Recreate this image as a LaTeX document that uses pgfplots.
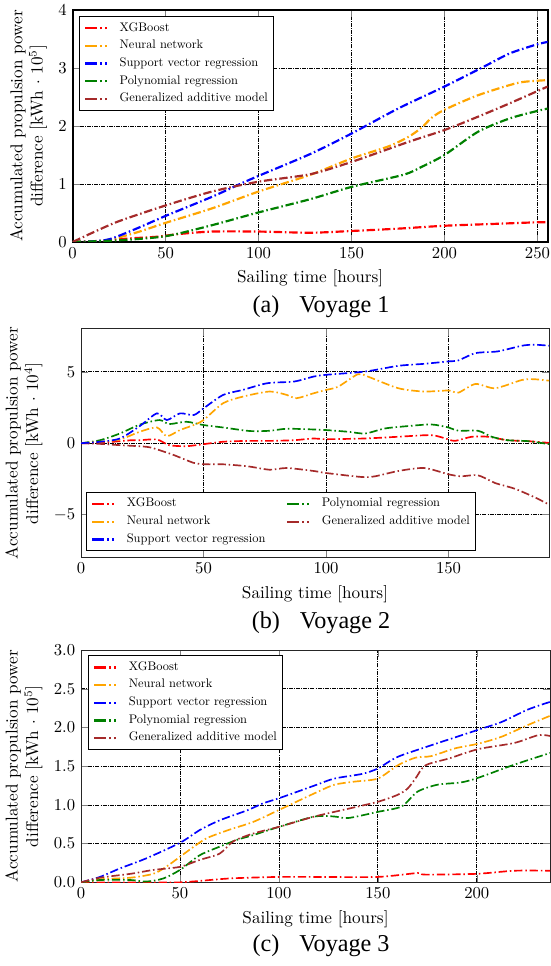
\documentclass[border=0pt]{standalone}
\usepackage{pgfplots}
\pgfplotsset{compat=1.18}
\usepackage{fontspec}
\newfontfamily\capfont{Liberation Serif}
\definecolor{cRed}{RGB}{255,0,0}
\definecolor{cOrange}{RGB}{255,165,0}
\definecolor{cBlue}{RGB}{0,0,255}
\definecolor{cGreen}{RGB}{0,128,0}
\definecolor{cBrown}{RGB}{165,42,42}
\newcommand\legtxt[1]{\scalebox{0.745}{\fontsize{10}{12}\selectfont #1}}
\newcommand\legsample[1]{\textcolor{#1}{\rule[0.95pt]{7.2pt}{1.4pt}\hspace{1.5pt}\rule[0.95pt]{1.4pt}{1.4pt}\hspace{1.7pt}\rule[0.95pt]{1.4pt}{1.4pt}}\hspace{7.6pt}}
\newcommand\legent[2]{\legsample{#1}\legtxt{#2}}
\pgfplotsset{
  myax/.style={
    scale only axis, anchor=north west,
    grid=major,
    major grid style={black, line width=0.45pt, dash pattern=on 2.4pt off 0.7pt on 0.5pt off 0.7pt},
    xlabel={Sailing time [hours]},
    tick label style={font=\fontsize{9.6}{11}\selectfont},
    label style={font=\fontsize{10.3}{12.2}\selectfont},
    ylabel style={align=center},
    legend cell align=left,
    legend style={font=\fontsize{7}{8}\selectfont, inner xsep=1.5pt, inner ysep=1.6pt, row sep=0pt, nodes={inner ysep=1.95pt}},
    legend image code/.code={},
    xmin=0,
    xtick={0,50,100,150,200,250},
  },
  cv/.style={draw=#1, dash pattern=on 5pt off 1.7pt on 0.9pt off 1.7pt, smooth, tension=0.45, no markers},
}
\begin{document}
\begin{tikzpicture}[x=1pt,y=1pt]
\useasboundingbox (0,0) rectangle (330,-579.6);
% ---------------- (a) ----------------
\begin{axis}[myax, at={(43.6pt,-6pt)}, width=285pt, height=139.2pt,
  xmax=255.5, ymin=0, ymax=4, ytick={0,1,2,3,4},
  axis line style={line width=1.1pt},
  every axis plot/.append style={line width=1.3pt},
  ylabel={Accumulated propulsion power\\difference [kWh $\cdot$ 10$^5$]},
  legend style={at={(axis description cs:0.013,0.974)}, anchor=north west}]
\addplot[cv=cRed] coordinates {(0,0) (15,0.02) (30,0.06) (45,0.09) (58,0.14) (75,0.18) (100,0.18) (128,0.16) (150,0.19) (175,0.23) (200,0.28) (225,0.31) (250,0.34) (255.5,0.34)};
\addlegendentry{\legent{cRed}{XGBoost}}
\addplot[cv=cOrange] coordinates {(0,0) (10,0.01) (20,0.04) (35,0.17) (50,0.33) (75,0.58) (100,0.87) (128,1.16) (150,1.44) (170,1.65) (181,1.82) (188,1.98) (193,2.14) (200,2.28) (218,2.53) (239,2.74) (250,2.78) (255.5,2.79)};
\addlegendentry{\legent{cOrange}{Neural network}}
\addplot[cv=cBlue] coordinates {(0,0) (10,0.01) (20,0.05) (35,0.24) (50,0.45) (75,0.78) (90,1.0) (100,1.14) (128,1.52) (150,1.87) (175,2.3) (200,2.68) (221,3.02) (235,3.25) (249,3.40) (255.5,3.45)};
\addlegendentry{\legent{cBlue}{Support vector regression}}
\addplot[cv=cGreen] coordinates {(0,0) (25,0.03) (50,0.10) (75,0.29) (100,0.51) (128,0.74) (150,0.95) (178,1.16) (188,1.30) (200,1.50) (218,1.90) (235,2.13) (250,2.26) (255.5,2.30)};
\addlegendentry{\legent{cGreen}{Polynomial regression}}
\addplot[cv=cBrown] coordinates {(0,0) (12,0.18) (25,0.36) (50,0.63) (75,0.87) (100,1.04) (128,1.17) (150,1.38) (181,1.73) (200,1.93) (218,2.16) (235,2.39) (255.5,2.68)};
\addlegendentry{\legent{cBrown}{Generalized additive model}}
\end{axis}
\node[font=\capfont\fontsize{14.5}{17}\selectfont] at (192.6,-184.2) {(a)\hspace{12pt}Voyage 1};
% ---------------- (b) ----------------
\begin{axis}[myax, at={(48.6pt,-197.4pt)}, width=280.8pt, height=137pt,
  xmax=191, ymin=-8, ymax=8, ytick={-5,0,5},
  axis line style={line width=0.6pt, black!85},
  every axis plot/.append style={line width=1pt},
  ylabel={Accumulated propulsion power\\difference [kWh $\cdot$ 10$^4$]},
  legend columns=2,
  legend style={at={(axis description cs:0.0107,0.0276)}, anchor=south west,
    /tikz/every even column/.append style={column sep=9pt}}]
\addplot[cv=cRed] coordinates {(0,0) (7.8,0.02) (20,0.2) (24,0.21) (31,0.26) (36,-0.14) (43,-0.21) (50,-0.07) (58,0.1) (68,0.16) (77,0.16) (87,0.21) (95,0.33) (100,0.28) (116,0.33) (129.5,0.45) (143,0.56) (150,0.26) (152.7,0.16) (159.5,0.45) (166,0.45) (174,0.21) (182.6,0.14) (191,0.02)};
\addlegendentry{\legent{cRed}{XGBoost}}
\addplot[cv=cGreen] coordinates {(0,0) (7.8,0.21) (15.9,0.68) (24,1.3) (32,1.62) (36,1.34) (43,1.5) (50,1.27) (58,1.1) (69,0.85) (77,0.87) (84,1.01) (95,0.96) (100,0.92) (109,0.8) (116,0.68) (124,1.03) (133.6,1.2) (143,1.31) (150,1.1) (154,0.87) (162,0.87) (167.6,0.45) (174,0.21) (182.6,0.14) (191,-0.07)};
\addlegendentry{\legent{cGreen}{Polynomial regression}}
\addplot[cv=cOrange] coordinates {(0,0) (7.8,0.1) (15.9,0.26) (24,0.8) (31,1.1) (35,0.49) (40.4,0.92) (46,1.27) (50,1.62) (58,2.8) (66,3.26) (77,3.62) (84,3.38) (88,3.15) (95,3.5) (100,3.73) (105,3.96) (113,4.83) (117,4.67) (129.5,3.85) (140,3.62) (150,3.69) (154,3.54) (161,4.15) (169,3.85) (180,4.43) (185,4.48) (191,4.38)};
\addlegendentry{\legent{cOrange}{Neural network}}
\addplot[cv=cBrown] coordinates {(0,0) (7.8,-0.05) (16,-0.14) (27,-0.26) (32,-0.49) (38,-0.84) (46,-1.38) (51,-1.48) (58,-1.48) (68,-1.62) (77,-1.86) (84,-1.74) (95,-1.95) (100,-2.09) (114.6,-2.37) (120,-2.32) (129.5,-1.95) (140,-1.74) (150,-2.18) (155,-2.32) (162,-2.25) (169,-2.79) (177,-3.19) (185,-3.78) (191,-4.3)};
\addlegendentry{\legent{cBrown}{Generalized additive model}}
\addplot[cv=cBlue] coordinates {(0,0) (7.8,0.1) (15.9,0.33) (24,1.2) (31,2.09) (35,1.62) (40.4,2.09) (46,1.97) (50,2.44) (58,3.38) (66,3.73) (76,4.2) (87,4.32) (95,4.67) (100,4.79) (116,5.02) (129.5,5.42) (140,5.56) (150,5.73) (154,5.8) (161,6.31) (170,6.43) (180,6.83) (185,6.9) (191,6.83)};
\addlegendentry{\legent{cBlue}{Support vector regression}}
\end{axis}
\node[font=\capfont\fontsize{14.5}{17}\selectfont] at (192.6,-373.8) {(b)\hspace{12pt}Voyage 2};
% ---------------- (c) ----------------
\begin{axis}[myax, at={(48.6pt,-390pt)}, width=281.4pt, height=139.4pt,
  xmax=237, ymin=0, ymax=3, ytick={0,0.5,1,1.5,2,2.5,3},
  yticklabel style={/pgf/number format/.cd, fixed, fixed zerofill, precision=1},
  axis line style={line width=0.6pt, black!85},
  every axis plot/.append style={line width=1pt},
  ylabel={Accumulated propulsion power\\difference [kWh $\cdot$ 10$^5$]},
  legend style={at={(axis description cs:0.0149,0.978)}, anchor=north west}]
\addplot[cv=cRed] coordinates {(0,0) (25,0) (50,0.0) (75,0.05) (100,0.07) (118,0.07) (150,0.07) (170,0.12) (174,0.10) (200,0.11) (219,0.15) (237,0.15)};
\addlegendentry{\legent{cRed}{XGBoost}}
\addplot[cv=cOrange] coordinates {(0,0) (10,0.04) (25,0.06) (36.5,0.11) (43,0.2) (50,0.33) (57,0.46) (63.5,0.57) (75,0.68) (87,0.78) (100.5,0.94) (118,1.15) (128,1.26) (138,1.30) (150,1.34) (160,1.51) (169,1.61) (177,1.63) (189,1.73) (200.7,1.79) (212.5,1.88) (225.7,2.03) (237,2.15)};
\addlegendentry{\legent{cOrange}{Neural network}}
\addplot[cv=cBlue] coordinates {(0,0) (9.6,0.07) (19.7,0.18) (33,0.31) (50,0.51) (60,0.675) (70,0.80) (84,0.93) (92,1.02) (100.5,1.09) (118,1.25) (128,1.34) (142,1.40) (150,1.47) (160,1.62) (177,1.77) (200.7,1.97) (212.5,2.07) (225.7,2.23) (237,2.33)};
\addlegendentry{\legent{cBlue}{Support vector regression}}
\addplot[cv=cGreen] coordinates {(0,0) (9.6,0.03) (25,0.03) (33,0.01) (41.6,0.05) (50,0.16) (60,0.35) (70,0.46) (79,0.55) (87,0.61) (100.5,0.72) (118,0.85) (128,0.85) (135,0.83) (150,0.91) (162,0.98) (170,1.17) (180,1.26) (192,1.29) (200.7,1.35) (219,1.52) (237,1.67)};
\addlegendentry{\legent{cGreen}{Polynomial regression}}
\addplot[cv=cBrown] coordinates {(0,0) (9.6,0.06) (25,0.11) (36.5,0.16) (50,0.20) (60,0.29) (70,0.37) (77,0.53) (87,0.63) (100.5,0.72) (118,0.85) (135,0.95) (150,1.04) (160,1.13) (165,1.21) (169,1.34) (174,1.51) (186,1.6) (200.7,1.72) (219,1.80) (231,1.90) (237,1.89)};
\addlegendentry{\legent{cBrown}{Generalized additive model}}
\end{axis}
\node[font=\capfont\fontsize{14.5}{17}\selectfont] at (192.6,-567.6) {(c)\hspace{12pt}Voyage 3};
\end{tikzpicture}
\end{document}
